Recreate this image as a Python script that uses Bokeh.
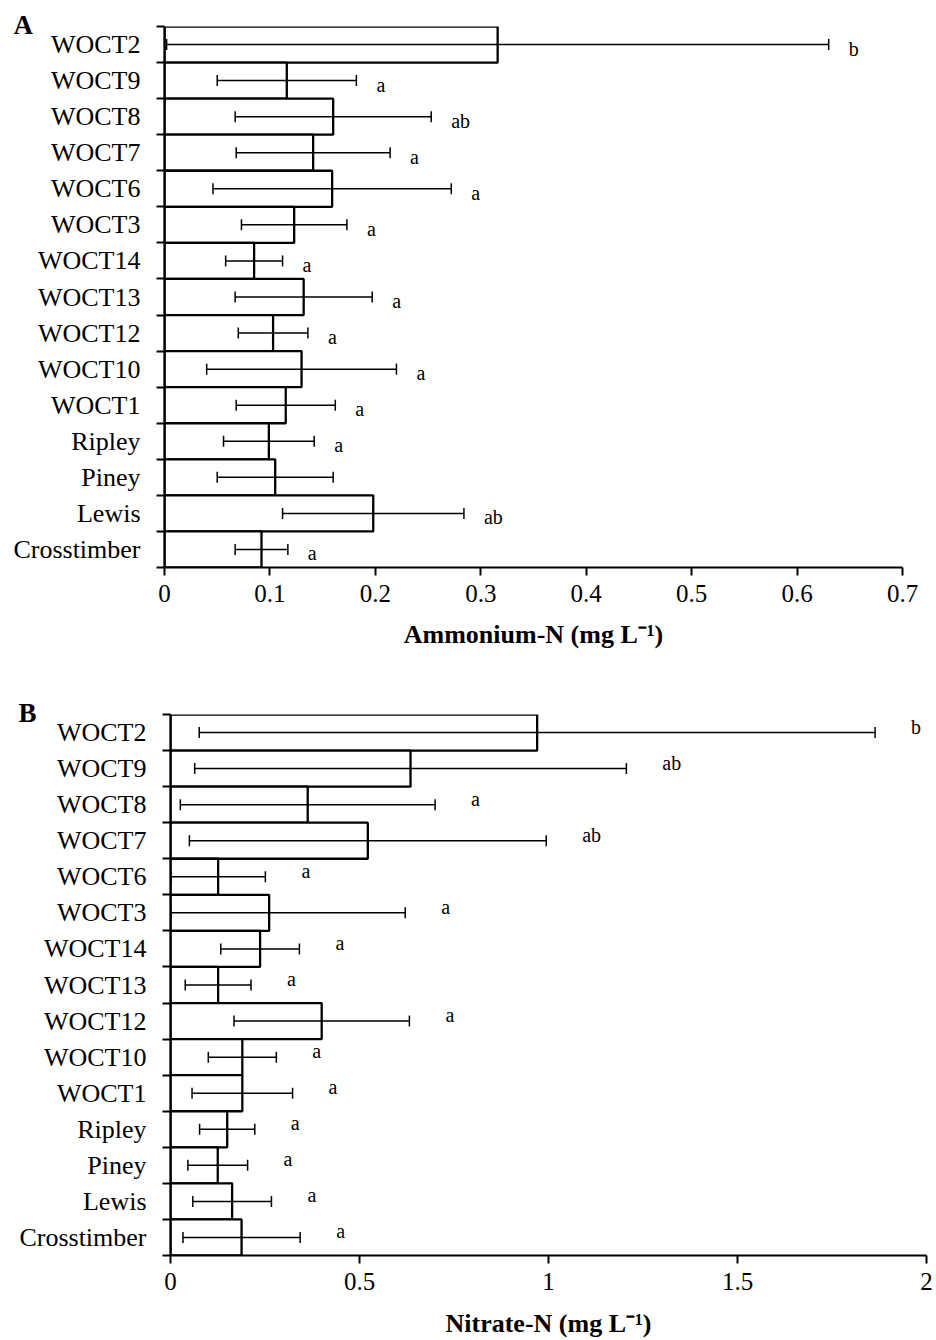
import numpy as np
from bokeh.plotting import figure
from bokeh.models import ColumnDataSource, Whisker, TeeHead, FixedTicker, Range1d
from bokeh.embed import file_html
from bokeh.resources import INLINE
from bokeh.core.properties import value

# ---------------- data (top to bottom) ----------------
sites = ["WOCT2", "WOCT9", "WOCT8", "WOCT7", "WOCT6", "WOCT3", "WOCT14", "WOCT13",
         "WOCT12", "WOCT10", "WOCT1", "Ripley", "Piney", "Lewis", "Crosstimber"]

nh4_mean = [0.316, 0.116, 0.160, 0.141, 0.159, 0.123, 0.085, 0.132,
            0.103, 0.130, 0.115, 0.099, 0.105, 0.198, 0.092]
nh4_err = [0.314, 0.066, 0.093, 0.073, 0.113, 0.050, 0.027, 0.065,
           0.033, 0.090, 0.047, 0.043, 0.055, 0.086, 0.025]
nh4_letters = ["b", "a", "ab", "a", "a", "a", "a", "a",
               "a", "a", "a", "a", "", "ab", "a"]

no3_mean = [0.970, 0.635, 0.363, 0.522, 0.126, 0.261, 0.237, 0.126,
            0.400, 0.190, 0.190, 0.150, 0.125, 0.163, 0.188]
no3_err = [0.894, 0.571, 0.337, 0.472, 0.125, 0.360, 0.104, 0.087,
           0.232, 0.090, 0.133, 0.073, 0.079, 0.104, 0.155]
no3_letters = ["b", "ab", "a", "ab", "a", "a", "a", "a",
               "a", "a", "a", "a", "a", "a", "a"]

nh4_ticks = [0, 0.1, 0.2, 0.3, 0.4, 0.5, 0.6, 0.7]
nh4_tick_labels = ["0", "0.1", "0.2", "0.3", "0.4", "0.5", "0.6", "0.7"]
no3_ticks = [0, 0.5, 1, 1.5, 2]
no3_tick_labels = ["0", "0.5", "1", "1.5", "2"]

SERIF = "Liberation Serif"


def make_panel(mean, err, letters, ticks, tick_labels, xlabel, tag, tag_offset,
               height, b_left, b_right, b_top, b_bottom, letter_dx, letter_dy,
               title_standoff):
    n = len(sites)
    mean = np.array(mean, dtype=float)
    err = np.array(err, dtype=float)
    ypos = np.arange(n)[::-1] + 0.5
    src = ColumnDataSource(dict(
        y=ypos, mean=mean,
        lower=np.maximum(mean - err, 0.0), upper=mean + err,
        letter=letters,
    ))
    p = figure(width=936, height=height, output_backend="svg", toolbar_location=None,
               x_range=Range1d(ticks[0], ticks[-1]), y_range=Range1d(0, n),
               min_border_left=b_left, min_border_right=b_right,
               min_border_top=b_top, min_border_bottom=b_bottom)
    p.outline_line_color = None
    p.xgrid.visible = False
    p.ygrid.visible = False
    p.background_fill_color = "white"

    # panel tag as a left-aligned title pulled down next to the first bar
    p.title.text = tag
    p.title.align = "left"
    p.title.offset = tag_offset
    p.title.standoff = -27
    p.title.text_font = SERIF
    p.title.text_font_style = "bold"
    p.title.text_font_size = "27px"
    p.title.text_color = "black"

    p.hbar(y="y", height=1, left=0, right="mean", fill_color="white",
           line_color="black", line_width=2.3, source=src)

    w = Whisker(source=src, base="y", lower="lower", upper="upper", dimension="width",
                line_color="black", line_width=1.5, level="annotation",
                upper_head=TeeHead(size=11, line_color="black", line_width=1.5),
                lower_head=TeeHead(size=11, line_color="black", line_width=1.5))
    p.add_layout(w)

    p.text(x="upper", y="y", text="letter", x_offset=letter_dx, y_offset=letter_dy,
           text_align="left", text_baseline="middle", text_color="black",
           text_font=value(SERIF), text_font_size="20px", source=src)

    # y axis: labels at category centres, tick marks at category boundaries
    ya = p.yaxis[0]
    ya.ticker = FixedTicker(ticks=list(ypos), minor_ticks=list(range(n + 1)))
    ya.major_label_overrides = {float(yv): s for yv, s in zip(ypos, sites)}
    ya.major_tick_out = 0
    ya.major_tick_in = 0
    ya.minor_tick_out = 8
    ya.minor_tick_in = 0
    ya.minor_tick_line_width = 2
    ya.minor_tick_line_color = "black"
    ya.axis_line_width = 2.3
    ya.axis_line_color = "black"
    ya.major_label_text_font = SERIF
    ya.major_label_text_font_size = "26px"
    ya.major_label_text_color = "black"
    ya.major_label_standoff = 16

    xa = p.xaxis[0]
    xa.ticker = FixedTicker(ticks=ticks, minor_ticks=[])
    xa.major_label_overrides = {float(t): s for t, s in zip(ticks, tick_labels)}
    xa.major_tick_out = 8
    xa.major_tick_in = 0
    xa.minor_tick_out = 0
    xa.minor_tick_in = 0
    xa.major_tick_line_width = 2
    xa.major_tick_line_color = "black"
    xa.axis_line_width = 2
    xa.axis_line_color = "black"
    xa.major_label_text_font = SERIF
    xa.major_label_text_font_size = "25px"
    xa.major_label_text_color = "black"
    xa.major_label_standoff = 9
    xa.axis_label = xlabel
    xa.axis_label_text_font = SERIF
    xa.axis_label_text_font_style = "bold"
    xa.axis_label_text_font_size = "26px"
    xa.axis_label_text_color = "black"
    xa.axis_label_standoff = title_standoff
    return p


pA = make_panel(nh4_mean, nh4_err, nh4_letters, nh4_ticks, nh4_tick_labels,
                "Ammonium-N (mg L\u207b\u00b9)", "A", -151,
                height=660, b_left=164, b_right=34, b_top=26, b_bottom=93,
                letter_dx=20, letter_dy=4, title_standoff=15)
pB = make_panel(no3_mean, no3_err, no3_letters, no3_ticks, no3_tick_labels,
                "Nitrate-N (mg L\u207b\u00b9)", "B", -152,
                height=680, b_left=170, b_right=10, b_top=54, b_bottom=85,
                letter_dx=36, letter_dy=-6, title_standoff=16)

open("out.html", "w").write(file_html([pA, pB], INLINE))
